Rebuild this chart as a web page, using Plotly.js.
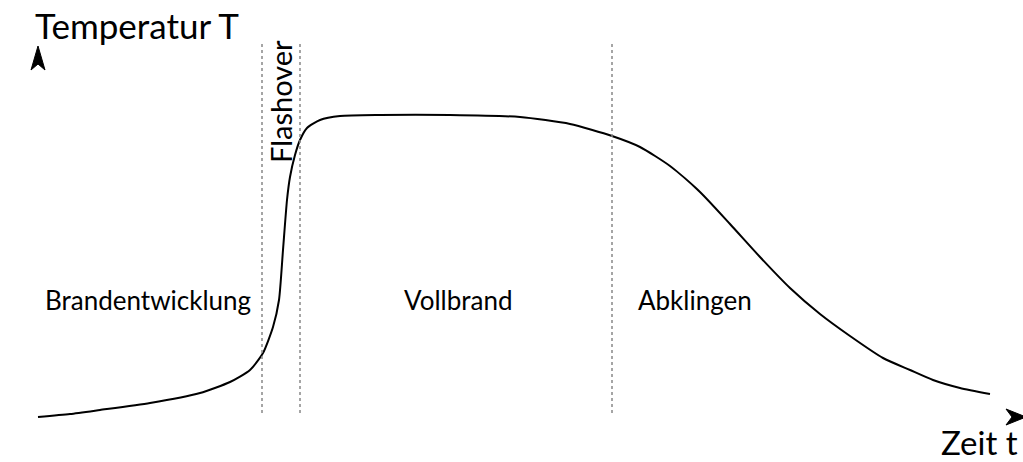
<!DOCTYPE html>
<html>
<head>
<meta charset="utf-8">
<script src="https://cdn.plot.ly/plotly-3.0.1.min.js"></script>
<style>
  html, body { margin: 0; padding: 0; background: #fff; }
  #brand { width: 1023px; height: 462px; }
</style>
</head>
<body>
<div id="brand"></div>
<script>
// Brandverlauf: Zeit / Temperatur (schematisch, keine Einheiten)
var zeit = [38, 70, 100, 150, 200, 230, 250, 263, 273, 279, 283, 287, 290, 295, 300, 307, 320, 340, 380, 450, 520, 570, 612, 640, 670, 700, 730, 760, 790, 820, 850, 883, 910, 933, 960, 990];
var temperatur = [45, 48, 52, 59, 69, 80, 92, 109, 135, 162, 212, 262, 285, 307, 322, 334, 342, 346, 347, 347, 345, 338, 326, 315, 296, 270, 238, 205, 174, 148, 126, 104, 92, 82, 74, 68];

var phasenGrenzen = [262, 300, 612];
var phasen = ['Brandentwicklung', 'Vollbrand', 'Abklingen'];
var phasenX = [148, 458, 695];

var font = 'Lato, "Noto Sans", sans-serif';

var kurve = {
    x: zeit,
    y: temperatur,
    mode: 'lines',
    line: { color: '#000', width: 2, shape: 'spline', smoothing: 0.6 },
    hoverinfo: 'skip'
};

var shapes = phasenGrenzen.map(function (g) {
    return {
        type: 'line', xref: 'x', yref: 'y',
        x0: g, x1: g, y0: 49, y1: 420,
        line: { color: '#888', width: 1.5, dash: 'dot' }
    };
});
// Pfeilspitzen der Achsen
shapes.push({
    type: 'path', xref: 'x', yref: 'y',
    path: 'M38,416 L45,392 L38,398 L31,392 Z',
    fillcolor: '#000', line: { color: '#000', width: 1 }
});
shapes.push({
    type: 'path', xref: 'x', yref: 'y',
    path: 'M1026,45 L1006,53 L1012,45 L1006,37 Z',
    fillcolor: '#000', line: { color: '#000', width: 1 }
});

var annotations = phasen.map(function (p, i) {
    return {
        x: phasenX[i], y: 162, text: p, showarrow: false,
        font: { family: font, size: 26, color: '#000' }
    };
});
annotations.push({
    x: 280, y: 360, text: 'Flashover', showarrow: false, textangle: -90,
    font: { family: font, size: 29, color: '#000' }
});
annotations.push({
    x: 33, y: 437, text: 'Temperatur T', showarrow: false, xanchor: 'left',
    font: { family: font, size: 35, color: '#000' }
});
annotations.push({
    x: 1020, y: 20, text: 'Zeit t', showarrow: false, xanchor: 'right',
    font: { family: font, size: 33, color: '#000' }
});

var layout = {
    width: 1023,
    height: 462,
    margin: { l: 0, r: 0, t: 0, b: 0 },
    showlegend: false,
    paper_bgcolor: '#fff',
    plot_bgcolor: '#fff',
    xaxis: { range: [0, 1023], visible: false, fixedrange: true },
    yaxis: { range: [0, 462], visible: false, fixedrange: true },
    shapes: shapes,
    annotations: annotations
};

Plotly.newPlot('brand', [kurve], layout, { displayModeBar: false, staticPlot: true });
</script>
</body>
</html>
